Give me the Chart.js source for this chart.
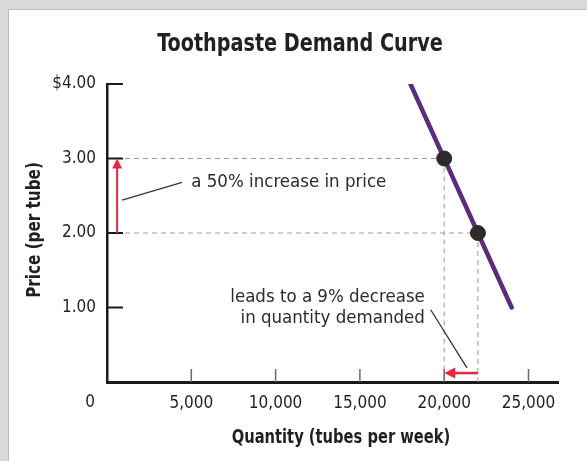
<!DOCTYPE html>
<html>
<head>
<meta charset="utf-8">
<script src="https://cdn.jsdelivr.net/npm/chart.js@4/dist/chart.umd.min.js"></script>
<style>
  html, body { margin: 0; padding: 0; background: #ffffff; }
  #wrap { width: 587px; height: 461px; position: relative; }
</style>
</head>
<body>
<div id="wrap"><canvas id="c" width="587" height="461"></canvas></div>
<script>
// ---- data ----
const chartTitle = 'Toothpaste Demand Curve';
const xAxisTitle = 'Quantity (tubes per week)';
const yAxisTitle = 'Price (per tube)';
const xTickValues = [5000, 10000, 15000, 20000, 25000];
const yTickValues = [1, 2, 3, 4];
const demandQuantity = [18000, 24000];
const demandPrice = [4.0, 1.0];
const pointQuantity = [20000, 22000];
const pointPrice = [3, 2];
const priceArrowQty = 600;            // x position of red vertical arrow
const qtyArrowPrice = 0.12;           // y position of red horizontal arrow
const note1 = 'a 50% increase in price';
const note2 = ['leads to a 9% decrease', 'in quantity demanded'];

const FONT = '"DejaVu Sans Condensed", "Liberation Sans Narrow", Arial, sans-serif';
const PURPLE = '#5b2c7c';
const RED = '#e8283c';
const GRAY = '#9a9a9a';

function arrow(ctx, x1, y1, x2, y2, color, w, head) {
  const a = Math.atan2(y2 - y1, x2 - x1);
  ctx.save();
  ctx.strokeStyle = color; ctx.fillStyle = color; ctx.lineWidth = w;
  ctx.beginPath();
  ctx.moveTo(x1, y1);
  ctx.lineTo(x2 - Math.cos(a) * head * 0.8, y2 - Math.sin(a) * head * 0.8);
  ctx.stroke();
  ctx.beginPath();
  ctx.moveTo(x2, y2);
  ctx.lineTo(x2 - head * Math.cos(a) + head * 0.5 * Math.sin(a), y2 - head * Math.sin(a) - head * 0.5 * Math.cos(a));
  ctx.lineTo(x2 - head * Math.cos(a) - head * 0.5 * Math.sin(a), y2 - head * Math.sin(a) + head * 0.5 * Math.cos(a));
  ctx.closePath();
  ctx.fill();
  ctx.restore();
}

function squeezedText(ctx, text, x, y, sx, rot) {
  ctx.save();
  ctx.translate(x, y);
  if (rot) ctx.rotate(rot);
  ctx.scale(sx, 1);
  ctx.fillText(text, 0, 0);
  ctx.restore();
}

const decor = {
  id: 'decor',
  beforeDraw(chart) {
    const ctx = chart.ctx;
    ctx.save();
    ctx.fillStyle = '#ffffff';
    ctx.fillRect(0, 0, chart.width, chart.height);
    ctx.fillStyle = '#d9d9d9';
    ctx.fillRect(0, 0, chart.width, 9);
    ctx.fillRect(0, 0, 8, chart.height);
    ctx.fillStyle = '#bcbcbc';
    ctx.fillRect(8, 9, chart.width - 8, 1);
    ctx.fillRect(8, 9, 1, chart.height - 9);
    ctx.restore();
  },
  beforeDatasetsDraw(chart) {
    const ctx = chart.ctx;
    const xs = chart.scales.x, ys = chart.scales.y;
    const X = v => xs.getPixelForValue(v), Y = v => ys.getPixelForValue(v);
    ctx.save();
    // dashed guide lines
    ctx.strokeStyle = GRAY; ctx.lineWidth = 1; ctx.setLineDash([5, 4]);
    for (let i = 0; i < pointQuantity.length; i++) {
      const px = X(pointQuantity[i]), py = Y(pointPrice[i]);
      ctx.beginPath(); ctx.moveTo(X(0), py); ctx.lineTo(px, py); ctx.stroke();
      ctx.beginPath(); ctx.moveTo(px, py); ctx.lineTo(px, Y(0)); ctx.stroke();
    }
    ctx.setLineDash([]);
    // inward tick marks
    ctx.strokeStyle = '#1a1a1a'; ctx.lineWidth = 2;
    yTickValues.forEach(v => { ctx.beginPath(); ctx.moveTo(X(0), Y(v)); ctx.lineTo(X(0) + 16, Y(v)); ctx.stroke(); });
    ctx.strokeStyle = '#6a6a6a'; ctx.lineWidth = 1.5;
    xTickValues.forEach(v => { ctx.beginPath(); ctx.moveTo(X(v), Y(0)); ctx.lineTo(X(v), Y(0) - 13); ctx.stroke(); });
    // leader lines
    ctx.strokeStyle = '#333333'; ctx.lineWidth = 1.3;
    ctx.beginPath(); ctx.moveTo(X(priceArrowQty) + 5, Y(2.44)); ctx.lineTo(X(4450), Y(2.68)); ctx.stroke();
    ctx.beginPath(); ctx.moveTo(X(19200), Y(0.97)); ctx.lineTo(X(21350), Y(0.19)); ctx.stroke();
    ctx.restore();
    // red arrows
    arrow(ctx, X(priceArrowQty), Y(2), X(priceArrowQty), Y(3), RED, 2, 10);
    arrow(ctx, X(22000), Y(qtyArrowPrice), X(20000), Y(qtyArrowPrice), RED, 2.5, 11);
  },
  afterDraw(chart) {
    const ctx = chart.ctx;
    const xs = chart.scales.x, ys = chart.scales.y;
    const X = v => xs.getPixelForValue(v), Y = v => ys.getPixelForValue(v);
    ctx.save();
    ctx.fillStyle = '#231f20';
    ctx.textBaseline = 'middle';
    // titles
    ctx.textAlign = 'center';
    ctx.font = 'bold 24px ' + FONT;
    squeezedText(ctx, chartTitle, 300, 45, 0.89);
    ctx.font = 'bold 19px ' + FONT;
    squeezedText(ctx, xAxisTitle, 341, 438, 0.86);
    squeezedText(ctx, yAxisTitle, 35, 230, 0.89, -Math.PI / 2);
    // zero label
    ctx.font = '17px ' + FONT;
    ctx.fillText('0', 90, 403);
    // notes
    ctx.fillStyle = '#2b2b2b';
    ctx.font = '18.5px ' + FONT;
    ctx.textAlign = 'left';
    ctx.fillText(note1, X(5000), Y(2.68));
    ctx.textAlign = 'right';
    ctx.fillText(note2[0], X(18850), Y(1.14));
    ctx.fillText(note2[1], X(18850), Y(0.85));
    ctx.restore();
  }
};

new Chart(document.getElementById('c'), {
  type: 'scatter',
  data: {
    datasets: [
      {
        label: 'Demand',
        data: demandQuantity.map((q, i) => ({ x: q, y: demandPrice[i] })),
        showLine: true,
        borderColor: PURPLE,
        borderWidth: 4.5,
        pointRadius: 0,
        borderCapStyle: 'round',
        order: 2
      },
      {
        label: 'Points',
        data: pointQuantity.map((q, i) => ({ x: q, y: pointPrice[i] })),
        showLine: false,
        pointRadius: 7.5,
        pointBackgroundColor: '#2e2a2b',
        pointBorderColor: '#2e2a2b',
        pointBorderWidth: 1,
        order: 1
      }
    ]
  },
  options: {
    responsive: false,
    animation: false,
    devicePixelRatio: 1,
    layout: { padding: { top: 84, bottom: 0, left: 0, right: 29 } },
    plugins: { legend: { display: false }, title: { display: false }, tooltip: { enabled: false } },
    scales: {
      x: {
        type: 'linear', min: 0, max: 26750,
        afterFit: s => { s.height = 79; },
        afterBuildTicks: s => { s.ticks = [0].concat(xTickValues).map(v => ({ value: v })); },
        grid: { display: false, drawTicks: false },
        border: { display: true, color: '#1a1a1a', width: 3 },
        ticks: {
          padding: 11,
          color: '#231f20',
          maxRotation: 0,
          autoSkip: false,
          font: { family: FONT, size: 17 },
          callback: v => (v === 0 ? '' : v.toLocaleString('en-US'))
        }
      },
      y: {
        type: 'linear', min: 0, max: 4,
        afterFit: s => { s.width = 107; },
        afterBuildTicks: s => { s.ticks = [0].concat(yTickValues).map(v => ({ value: v })); },
        grid: { display: false, drawTicks: false },
        border: { display: true, color: '#1a1a1a', width: 2.5 },
        ticks: {
          padding: 11,
          color: '#231f20',
          autoSkip: false,
          font: { family: FONT, size: 17 },
          callback: v => (v === 0 ? '' : (v === 4 ? '$' : '') + v.toFixed(2))
        }
      }
    }
  },
  plugins: [decor]
});
</script>
</body>
</html>
